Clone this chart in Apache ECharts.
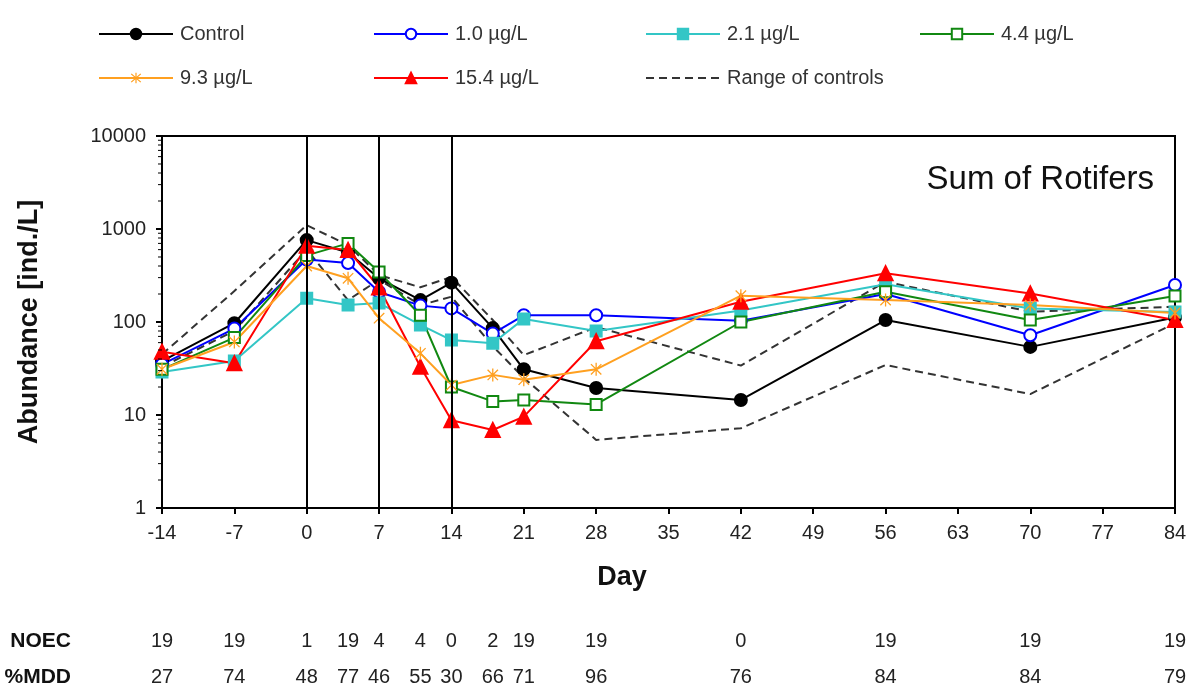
<!DOCTYPE html>
<html>
<head>
<meta charset="utf-8">
<title>Sum of Rotifers</title>
<script src="https://cdn.jsdelivr.net/npm/echarts@6/dist/echarts.min.js"></script>
<style>
  html, body { margin: 0; padding: 0; background: #fff; }
  #chart { width: 1192px; height: 693px; }
</style>
</head>
<body>
<div id="chart"></div>
<script>
// Sampling days (day 0 = start of application)
const days = [-14, -7, 0, 4, 7, 11, 14, 18, 21, 28, 42, 56, 70, 84];

// Abundance of rotifers [ind./L] per treatment
const control = [38, 97, 760, 560, 295, 172, 265, 86, 31, 19.5, 14.5, 105, 54, 112];
const conc1_0 = [35, 85, 470, 430, 210, 150, 140, 75, 118, 118, 103, 200, 72, 250];
const conc2_1 = [29, 38, 180, 152, 160, 93, 64, 59, 108, 80, 133, 255, 140, 128];
const conc4_4 = [31, 68, 520, 700, 345, 118, 20, 14, 14.5, 13, 100, 212, 105, 190];
const conc9_3 = [31, 61, 400, 295, 110, 46, 21, 27, 24, 31, 192, 172, 152, 125];
const conc15_4 = [48, 36, 660, 595, 235, 33, 8.8, 6.9, 9.6, 62, 165, 334, 203, 105];

// Upper and lower bound of the control replicates
const controlHigh = [45, 215, 1100, 670, 320, 236, 305, 105, 44, 88, 34, 271, 129, 146];
const controlLow = [33, 80, 600, 172, 285, 152, 187, 55, 25, 5.4, 7.2, 34.5, 16.8, 97];

// Statistics per sampling day
const noec = [19, 19, 1, 19, 4, 4, 0, 2, 19, 19, 0, 19, 19, 19];
const mdd = [27, 74, 48, 77, 46, 55, 30, 66, 71, 96, 76, 84, 84, 79];

// Application days marked by vertical lines
const applicationDays = [0, 7, 14];

// Series labels
const seriesNames = ['Control', '1.0 µg/L', '2.1 µg/L', '4.4 µg/L', '9.3 µg/L', '15.4 µg/L', 'Range of controls'];

const FONT = '"Liberation Sans", Arial, sans-serif';
const X_MIN = -14, X_MAX = 84;

// Minor tick values of the log axis (2..9 in each decade)
const minorTicks = [];
for (let dec = 1; dec < 10000; dec *= 10) {
  for (let k = 2; k <= 9; k++) minorTicks.push(k * dec);
}

// Asterisk-shaped marker (vertical bar plus an X)
const starPath = 'path://M9 0L11 0L11 20L9 20Z' +
  'M2.7 1.3L18.7 17.3L17.3 18.7L1.3 2.7Z' +
  'M17.3 1.3L18.7 2.7L2.7 18.7L1.3 17.3Z';

function pairs(values) {
  return days.map((d, i) => [d, values[i]]);
}

function lineSeries(name, values, color, symbol, size, extra) {
  return Object.assign({
    name: name,
    type: 'line',
    data: pairs(values),
    symbol: symbol,
    symbolSize: size,
    symbolKeepAspect: true,
    clip: false,
    color: color,
    lineStyle: { color: color, width: 2 },
    itemStyle: { color: color, borderColor: color, borderWidth: 2 },
    emphasis: { disabled: true },
    z: 3
  }, extra || {});
}

const chart = echarts.init(document.getElementById('chart'), null, { renderer: 'canvas' });

// legend item anchors (left, top)
const legendPos = [
  [93, 19], [368, 19], [640, 19], [914, 19],
  [93, 63], [368, 63], [640, 63]
];

const option = {
  animation: false,
  backgroundColor: '#fff',
  textStyle: { fontFamily: FONT },
  title: {
    text: 'Sum of Rotifers',
    right: 33,
    top: 158,
    textStyle: { fontFamily: FONT, fontSize: 33, fontWeight: 'normal', color: '#111' }
  },
  legend: seriesNames.map((n, i) => ({
    data: [i === 6 ? { name: n, itemStyle: { opacity: 0 } } : n],
    left: legendPos[i][0],
    top: legendPos[i][1],
    itemWidth: 74,
    itemHeight: 13,
    selectedMode: false,
    textStyle: { fontFamily: FONT, fontSize: 20, color: '#333', padding: [0, 0, 0, 2] }
  })),
  grid: {
    left: 162, right: 17, top: 136, bottom: 185,
    show: true, borderColor: '#000', borderWidth: 2
  },
  xAxis: {
    type: 'value',
    min: X_MIN, max: X_MAX, interval: 7,
    axisLine: { show: true, onZero: false, lineStyle: { color: '#000', width: 2 } },
    axisTick: { show: true, inside: false, length: 6, lineStyle: { color: '#000', width: 2 } },
    axisLabel: { fontFamily: FONT, fontSize: 20, color: '#222', margin: 15 },
    splitLine: { show: false }
  },
  yAxis: {
    type: 'log',
    logBase: 10,
    min: 1, max: 10000,
    axisLine: { show: true, onZero: false, lineStyle: { color: '#000', width: 2 } },
    axisTick: { show: true, inside: false, length: 6, lineStyle: { color: '#000', width: 2 } },
    axisLabel: {
      fontFamily: FONT, fontSize: 20, color: '#222', margin: 16,
      formatter: v => String(Math.round(v))
    },
    splitLine: { show: false },
    name: 'Abundance [ind./L]',
    nameLocation: 'middle',
    nameGap: 119,
    nameTextStyle: { fontFamily: FONT, fontSize: 27, fontWeight: 'bold', color: '#111' }
  },
  graphic: [
    { type: 'text', x: 622, y: 578, style: { text: 'Day', font: 'bold 27px ' + FONT, fill: '#111', align: 'center', verticalAlign: 'middle' } },
    { type: 'text', x: 71, y: 641, style: { text: 'NOEC', font: 'bold 21px ' + FONT, fill: '#111', align: 'right', verticalAlign: 'middle' } },
    { type: 'text', x: 71, y: 677, style: { text: '%MDD', font: 'bold 21px ' + FONT, fill: '#111', align: 'right', verticalAlign: 'middle' } }
  ],
  series: [
    lineSeries('Range of controls', controlHigh, '#333', 'none', 0, {
      lineStyle: { color: '#333', width: 2, type: [8, 5] }, z: 2,
      markLine: {
        silent: true,
        symbol: ['none', 'none'],
        label: { show: false },
        lineStyle: { color: '#000', width: 2, type: 'solid' },
        data: applicationDays.map(d => ({ xAxis: d }))
      }
    }),
    lineSeries('Range of controls', controlLow, '#333', 'none', 0, {
      lineStyle: { color: '#333', width: 2, type: [8, 5] }, z: 2
    }),
    lineSeries('Control', control, '#000', 'circle', 12),
    lineSeries('1.0 µg/L', conc1_0, '#0000ff', 'emptyCircle', 12),
    lineSeries('2.1 µg/L', conc2_1, '#33c6c6', 'rect', 11),
    lineSeries('4.4 µg/L', conc4_4, '#118811', 'emptyRect', 11),
    lineSeries('15.4 µg/L', conc15_4, '#ff0000', 'triangle', 14),
    lineSeries('9.3 µg/L', conc9_3, '#ffa020', starPath, 13, {
      itemStyle: { color: '#ffa020', borderWidth: 0 }
    }),
    {
      // minor ticks of the logarithmic axis
      type: 'custom',
      silent: true,
      clip: false,
      data: minorTicks.map(v => [X_MIN, v]),
      renderItem: function (params, api) {
        const p = api.coord([api.value(0), api.value(1)]);
        return {
          type: 'line',
          shape: { x1: p[0] - 4, y1: p[1], x2: p[0], y2: p[1] },
          style: { stroke: '#000', lineWidth: 1 }
        };
      },
      z: 4
    },
    {
      // NOEC and %MDD rows under the axis
      type: 'custom',
      silent: true,
      clip: false,
      data: days.map((d, i) => [d, 1, noec[i], mdd[i]]),
      renderItem: function (params, api) {
        const x = api.coord([api.value(0), 1])[0];
        return {
          type: 'group',
          children: [
            { type: 'text', x: x, y: 641, style: { text: String(api.value(2)), font: '20px ' + FONT, fill: '#222', align: 'center', verticalAlign: 'middle' } },
            { type: 'text', x: x, y: 677, style: { text: String(api.value(3)), font: '20px ' + FONT, fill: '#222', align: 'center', verticalAlign: 'middle' } }
          ]
        };
      }
    }
  ]
};

chart.setOption(option);
</script>
</body>
</html>
